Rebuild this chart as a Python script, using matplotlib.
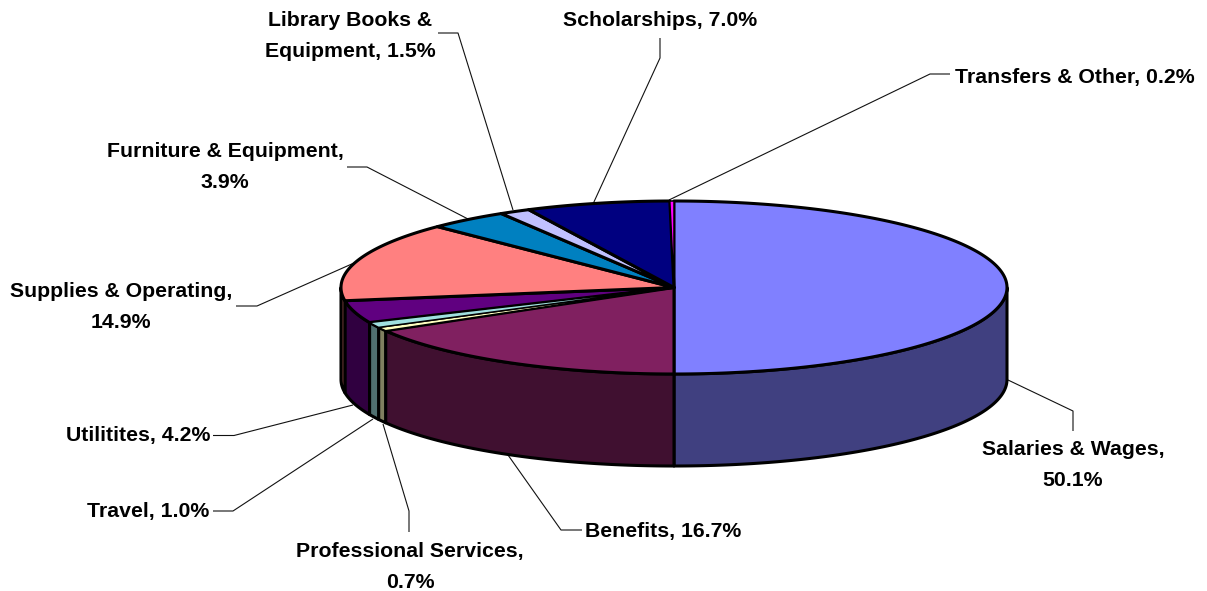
import matplotlib
matplotlib.use("Agg")
import matplotlib.pyplot as plt
from matplotlib.patches import Polygon
import numpy as np

names = ["Salaries & Wages", "Benefits", "Professional Services", "Travel", "Utilitites",
         "Supplies & Operating", "Furniture & Equipment", "Library Books & Equipment",
         "Scholarships", "Transfers & Other"]
shares = [50.1, 16.7, 0.7, 1.0, 4.2, 14.9, 3.9, 1.5, 7.0, 0.2]
colors = ["#8080FF", "#802060", "#FFFFC0", "#A0E0E0", "#600080",
          "#FF8080", "#0080C0", "#C0C0FF", "#000080", "#FF00FF"]

# label text wraps, same as the original
label_text = ["Salaries & Wages,\n50.1%", "Benefits, 16.7%", "Professional Services,\n0.7%",
              "Travel, 1.0%", "Utilitites, 4.2%", "Supplies & Operating,\n14.9%",
              "Furniture & Equipment,\n3.9%", "Library Books &\nEquipment, 1.5%",
              "Scholarships, 7.0%", "Transfers & Other, 0.2%"]
label_pos = [(1073, 465), (663.5, 531), (410, 567), (148.5, 512), (138, 436),
             (121, 307), (225, 167), (350, 36), (660, 21), (1075, 77)]
leaders = [[(1008, 380), (1073, 411), (1073, 431)],
           [(508, 455), (561, 530), (582, 530)],
           [(383, 424), (409, 511), (409, 532)],
           [(373, 419), (233, 511), (213, 511)],
           [(353, 405), (234, 435.5), (213, 435.5)],
           [(354, 263), (257, 306), (236, 306)],
           [(468, 219), (367, 167), (347, 167)],
           [(513, 210), (458, 33), (438, 33)],
           [(593, 204), (660, 58), (660, 38)],
           [(669, 200), (930, 74), (950, 74)]]

cx, cy, rx, ry, depth = 674, 287.5, 333, 86.5, 92
edge_lw = 2.2
thin_lw = 1.1


def rim(a0, a1, dy=0):
    # points on the ellipse, angle clockwise from 12 o'clock
    t = np.linspace(a0, a1, max(int(abs(a1 - a0) * 2), 2))
    r = np.radians(t)
    return np.column_stack([cx + rx * np.sin(r), cy - ry * np.cos(r) + dy])


fig = plt.figure(figsize=(12.07, 5.91), dpi=100)
ax = fig.add_axes([0, 0, 1, 1])
ax.set_xlim(0, 1207)
ax.set_ylim(591, 0)
ax.axis("off")

edges = np.concatenate([[0], np.cumsum(shares)]) / sum(shares) * 360

# leader lines go under the pie
for line in leaders:
    xs, ys = zip(*line)
    ax.plot(xs, ys, color="#111111", lw=0.8, solid_capstyle="butt", zorder=1)

# side wall, only the front half shows
for i, c in enumerate(colors):
    a0, a1 = max(edges[i], 90), min(edges[i + 1], 270)
    if a1 <= a0:
        continue
    rgb = np.array(matplotlib.colors.to_rgb(c)) * 0.5
    pts = np.vstack([rim(a0, a1), rim(a0, a1, depth)[::-1]])
    ax.add_patch(Polygon(pts, closed=True, fc=rgb, ec="black", lw=edge_lw, joinstyle="round", zorder=2))

# top face, the slivers go last with a thinner edge so their colour still shows
for i, c in enumerate(colors):
    sliver = shares[i] <= 1.0
    pts = np.vstack([[(cx, cy)], rim(edges[i], edges[i + 1])])
    ax.add_patch(Polygon(pts, closed=True, fc=c, ec="black", lw=thin_lw if sliver else edge_lw,
                         joinstyle="round", zorder=4 if sliver else 3))

for txt, (x, y) in zip(label_text, label_pos):
    ax.text(x, y, txt, ha="center", va="center", fontsize=15.3, fontweight="bold",
            family=["Liberation Sans", "DejaVu Sans"], linespacing=1.76)

fig.savefig("out.png", dpi=100, facecolor="white")
